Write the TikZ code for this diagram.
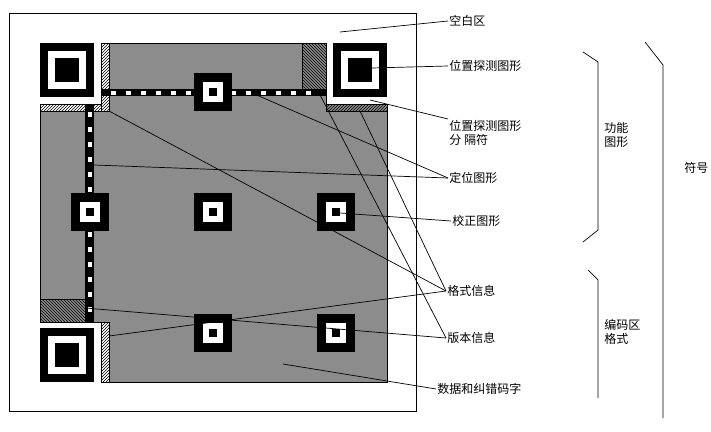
\documentclass[tikz,border=0pt]{standalone}
\usepackage{fontspec}
\setmainfont{Noto Sans CJK SC}
\usepackage{xcolor}
\definecolor{qrgray}{HTML}{8C8C8C}
\usetikzlibrary{patterns,positioning}

\begin{document}
\begin{tikzpicture}[x=1pt,y=-1pt,line width=0.8pt,font=\fontsize{12}{14}\selectfont]
              \tikzstyle{lead}=[line width=0.7pt]
              \tikzstyle{lbl}=[anchor=west,inner sep=1pt,align=left]
              \tikzstyle{hatchne}=[pattern=north east lines,draw=black,line width=0.5pt]
              \tikzstyle{hatchnw}=[pattern=north west lines,draw=black,line width=0.5pt]
              \useasboundingbox (0,0) rectangle (711,431);

              % quiet zone and symbol
              \draw (9,13) rectangle (416,411);
              \fill[qrgray,draw=black,line width=0.5pt] (109,43) -- (326,43) -- (326,104) -- (387,104) -- (387,382)
                    -- (109,382) -- (109,322) -- (40,322) -- (40,111) -- (109,111) -- cycle;

              % separators, format and version areas
              \draw[hatchne] (101,43) rectangle (109,111);
              \draw[hatchne] (40,104) rectangle (101,111);
              \draw[hatchne] (326,104) rectangle (387,111);
              \draw[hatchne] (101,322) rectangle (109,382);
              \draw[hatchnw] (302,43) rectangle (326,89);
              \draw[hatchnw] (40,299) rectangle (85,322);

              % timing patterns
              \fill (101,89) rectangle (326,96);
              \fill (85,104) rectangle (94,322);
              \foreach \x in {111,126,...,320} {\fill[white] (\x,90.5) rectangle +(5,4);}
              \foreach \y in {112,127,...,315} {\fill[white] (87.5,\y) rectangle +(4,5);}

              % finder patterns
              \foreach \fx/\fy in {40/43, 333/43, 40/328} {
                \fill (\fx,\fy) rectangle +(54,54);
                \fill[white] (\fx+8,\fy+8) rectangle +(38,38);
                \fill (\fx+15,\fy+15) rectangle +(24,24);
              }

              % alignment patterns
              \foreach \ax/\ay in {213/92, 90/212, 213/212, 336/212, 213/333, 336/333} {
                \fill (\ax-19,\ay-19) rectangle +(38,38);
                \fill[white] (\ax-10,\ay-10) rectangle +(20,20);
                \fill (\ax-4,\ay-4) rectangle +(8,8);
              }

              % labels
              \node[lbl] (quiet)  at (448,21)  {空白区};
              \node[lbl] (finder) at (448,66)  {位置探测图形};
              \node[lbl] (sep)    at (448,133) {位置探测图形\\分 隔符};
              \node[lbl] (timing) at (448,178) {定位图形};
              \node[lbl] (align)  at (451,221) {校正图形};
              \node[lbl] (format) at (446,291) {格式信息};
              \node[lbl] (version) at (446,338) {版本信息};
              \node[lbl] (data)   at (436,389) {数据和纠错码字};
              \node[lbl] (func)   at (603,135) {功能\\图形};
              \node[lbl] (enc)    at (603,332) {编码区\\格式};
              \node[lbl] (sym)    at (683,168) {符号};

              % leader end points
              \coordinate (pq) at (340,32);
              \coordinate (pf) at (372,68);
              \coordinate (ps) at (370,100);
              \coordinate (pt1) at (94,165);
              \coordinate (pt2) at (252,93);
              \coordinate (pa) at (340,213);
              \coordinate (pfm1) at (109,111);
              \coordinate (pfm2) at (360,111);
              \coordinate (pfm3) at (109,336);
              \coordinate (pv1) at (318,91);
              \coordinate (pv2) at (85,308);
              \coordinate (pd) at (283,364);

              \draw[lead] (pq) -- (quiet.west);
              \draw[lead] (pf) -- (finder.west);
              \draw[lead] (ps) -- ([yshift=14pt]sep.west);
              \draw[lead] (pt1) -- (timing.west);
              \draw[lead] (pt2) -- (timing.west);
              \draw[lead] (pa) -- (align.west);
              \draw[lead] (pfm1) -- (format.west);
              \draw[lead] (pfm2) -- (format.west);
              \draw[lead] (pfm3) -- (format.west);
              \draw[lead] (pv1) -- (version.west);
              \draw[lead] (pv2) -- (version.west);
              \draw[lead] (pd) -- (data.west);

              % braces
              \draw[lead] (583,52) -- (598,62) -- (598,230) -- (583,242);
              \draw[lead] (588,270) -- (598,280) -- (598,398);
              \draw[lead] (645,42) -- (663,65) -- (663,418);
       \end{tikzpicture}
\end{document}
